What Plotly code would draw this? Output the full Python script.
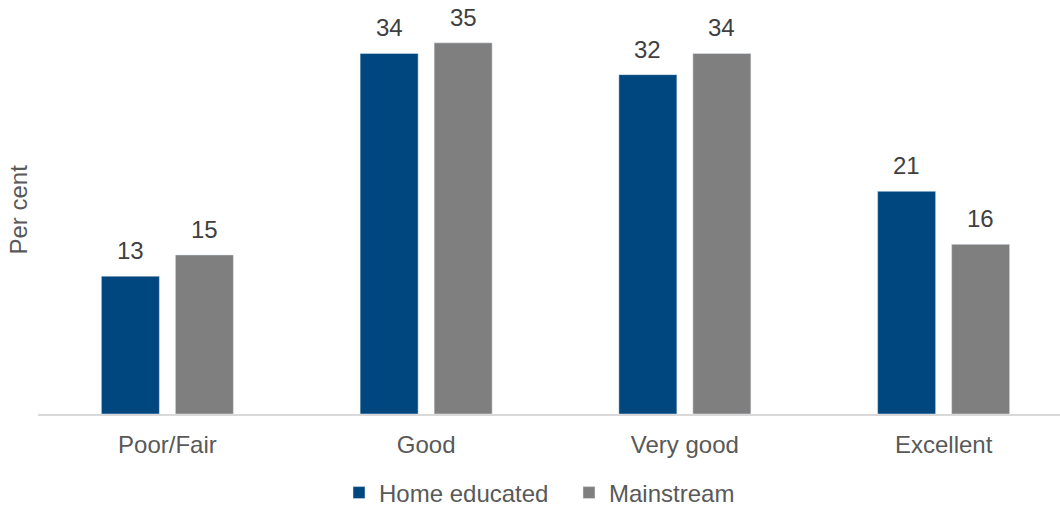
import plotly.graph_objects as go

categories = ["Poor/Fair", "Good", "Very good", "Excellent"]
home_educated = [13, 34, 32, 21]
mainstream = [15, 35, 34, 16]

FONT = "Liberation Sans, Arial, sans-serif"
BAR_OFFSET = 37  # half the distance between paired bar centres, px

fig = go.Figure()
fig.add_trace(go.Bar(
    x=categories, y=home_educated, name="Home educated",
    marker=dict(color="#00467F"),
))
fig.add_trace(go.Bar(
    x=categories, y=mainstream, name="Mainstream",
    marker=dict(color="#7F7F7F"),
))

# value labels above each bar
annotations = []
for series, shift in ((home_educated, -BAR_OFFSET), (mainstream, BAR_OFFSET)):
    for cat, val in zip(categories, series):
        annotations.append(dict(
            x=cat, y=val, xref="x", yref="y", text=str(val),
            xshift=shift, yshift=10, yanchor="bottom", xanchor="center",
            showarrow=False,
            font=dict(family=FONT, size=24, color="#404040"),
        ))

annotations.append(dict(
    text="Per cent", textangle=-90, xref="paper", yref="paper",
    x=0, y=0.5, xanchor="center", yanchor="middle", xshift=-20, yshift=3,
    showarrow=False, font=dict(family=FONT, size=24, color="#595959"),
))

fig.update_layout(
    width=1075, height=507,
    margin=dict(l=38, r=2, t=11, b=93, autoexpand=False),
    paper_bgcolor="white", plot_bgcolor="white",
    barmode="group", bargap=0.428, bargroupgap=0.216,
    font=dict(family=FONT, size=24, color="#595959"),
    showlegend=True,
    legend=dict(
        orientation="h", xref="container", x=569 / 1075, xanchor="center",
        yref="container", y=1 - 493 / 507, yanchor="middle",
        font=dict(family=FONT, size=24, color="#595959"),
        itemwidth=30, traceorder="normal",
        entrywidth=185, entrywidthmode="pixels",
    ),
    xaxis=dict(
        showline=True, linecolor="#D9D9D9", linewidth=2,
        ticks="", tickfont=dict(family=FONT, size=24, color="#595959"),
        showgrid=False, zeroline=False, automargin=False,
        ticklabelstandoff=8,
    ),
    yaxis=dict(
        range=[0, 38], showticklabels=False, showgrid=False,
        zeroline=False, showline=False, ticks="", automargin=False,
    ),
    annotations=annotations,
)

fig.write_html("out.html")
